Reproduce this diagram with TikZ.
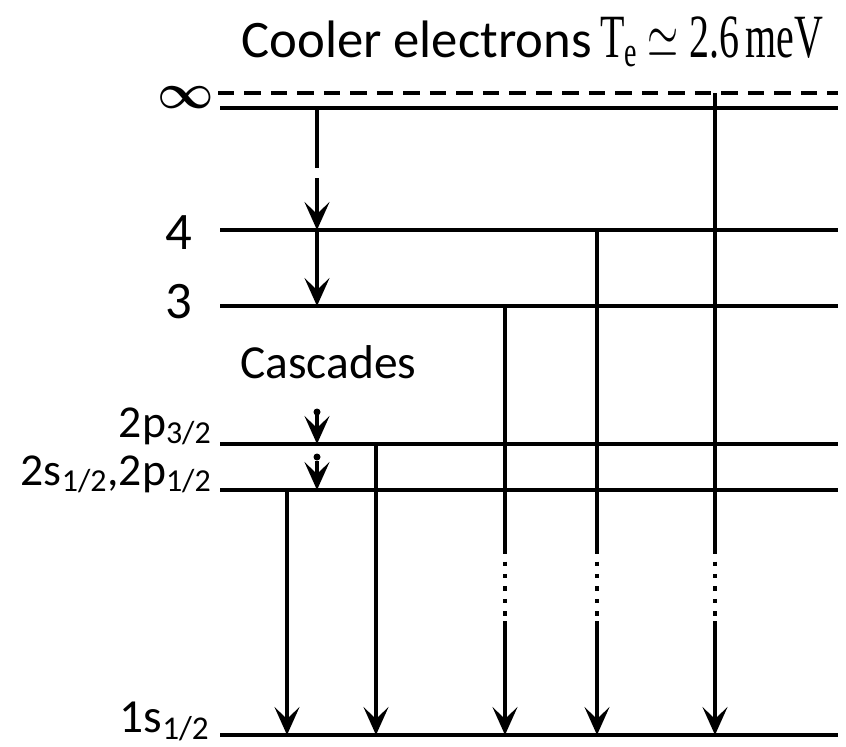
\RequirePackage{fix-cm}
\documentclass[tikz,border=0pt]{standalone}
\usepackage{fontspec}
\setmainfont{Carlito}
\newfontfamily\serifpart{Liberation Serif}
\usetikzlibrary{arrows.meta,positioning}

\begin{document}
\begin{tikzpicture}[
    x=0.02cm, y=-0.02cm,
    level/.style={line width=2.2pt},
    shaft/.style={line width=2pt},
    trans/.style={shaft, -{Stealth[length=0.56cm, width=0.5cm, inset=0.24cm]}},
    dots/.style={line width=2.6pt, dash pattern=on 0.09cm off 0.16cm},
    lbl/.style={inner sep=0pt, font=\fontsize{30}{32}\selectfont},
    sublbl/.style={inner sep=0pt, font=\fontsize{26}{28}\selectfont}
]
    \useasboundingbox (0,0) rectangle (846,747);

    % energy levels
    \draw[level, dash pattern=on 0.33cm off 0.2cm] (218,93) coordinate (Lion) -- (838,93);
    \draw[level] (220,108) coordinate (Linf) -- (838,108);
    \draw[level] (220,230) coordinate (L4) -- (838,230);
    \draw[level] (220,306) coordinate (L3) -- (838,306);
    \draw[level] (220,444) coordinate (L2p) -- (838,444);
    \draw[level] (220,490) coordinate (L2s) -- (838,490);
    \draw[level] (220,735) coordinate (L1s) -- (838,735);

    % labels
    \node[anchor=base west, inner sep=0pt, font=\fontsize{30}{32}\selectfont] (title) at (241,57)
        {Cooler electrons\,\scalebox{0.65}[1]{\serifpart\fontsize{35}{37}\selectfont T\textsubscript{e} $\simeq$ 2.6\,meV}};
    \node[lbl, font=\fontsize{28}{30}\selectfont\boldmath, left=0.12cm of Linf, yshift=0.2cm] (ninf) {$\infty$};
    \node[lbl, left=0.54cm of L4, yshift=-0.06cm] (n4) {4};
    \node[lbl, left=0.54cm of L3, yshift=0.08cm] (n3) {3};
    \node[sublbl, anchor=base east] (n2p) at ([shift={(-8,-7)}]L2p) {2p\textsubscript{3/2}};
    \node[sublbl, anchor=base east] (n2s) at ([shift={(-8,-5)}]L2s) {2s\textsubscript{1/2},2p\textsubscript{1/2}};
    \node[sublbl, font=\fontsize{27}{29}\selectfont, anchor=base east] (n1s) at ([shift={(-10,-3)}]L1s) {1s\textsubscript{1/2}};
    \node[anchor=base west, inner sep=0pt, font=\fontsize{27}{30}\selectfont] (casc) at (240,378) {Cascades};

    % columns and breaks
    \coordinate (c0) at (317,0);
    \coordinate (c1) at (287,0);
    \coordinate (c2) at (376,0);
    \coordinate (c3) at (505,0);
    \coordinate (c4) at (597,0);
    \coordinate (c5) at (715,0);
    \coordinate (cutA) at (0,168);
    \coordinate (cutB) at (0,178);
    \coordinate (dotA) at (0,412);
    \coordinate (headA) at (0,415);
    \coordinate (dotB) at (0,457);
    \coordinate (headB) at (0,461);
    \coordinate (gapA) at (0,549);
    \coordinate (gapB) at (0,621);

    % cascades
    \draw[shaft] (c0 |- Linf) -- (c0 |- cutA);
    \draw[trans] (c0 |- cutB) -- (c0 |- L4);
    \draw[trans] (c0 |- L4) -- (c0 |- L3);
    \fill (c0 |- dotA) circle (3.5);
    \draw[trans] (c0 |- headA) -- (c0 |- L2p);
    \fill (c0 |- dotB) circle (3.5);
    \draw[trans] (c0 |- headB) -- (c0 |- L2s);

    % transitions to the ground state
    \draw[trans] (c1 |- L2s) -- (c1 |- L1s);
    \draw[trans] (c2 |- L2p) -- (c2 |- L1s);
    \foreach \col/\from in {c3/L3, c4/L4, c5/Lion} {
        \draw[shaft] (\col |- \from) -- (\col |- gapA);
        \draw[dots] (\col |- gapA) -- (\col |- gapB);
        \draw[trans] (\col |- gapB) -- (\col |- L1s);
    }
\end{tikzpicture}
\end{document}
